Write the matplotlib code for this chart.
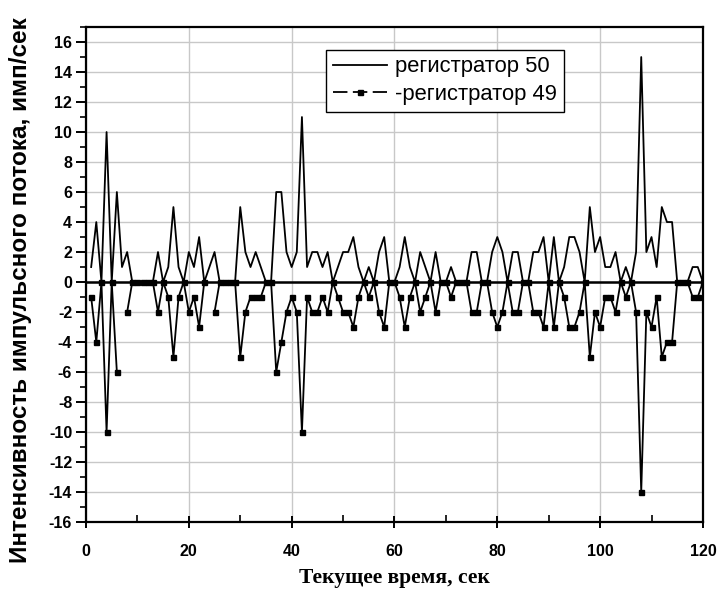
import numpy as np
import matplotlib
matplotlib.use("Agg")
import matplotlib.pyplot as plt
from matplotlib.lines import Line2D
from matplotlib.ticker import MultipleLocator

plt.rcParams['axes.unicode_minus'] = False

# time, seconds
t = np.arange(1, 121)

# регистратор 50 (positive)
reg50 = [1, 4, 0, 10, 0, 6, 1, 2, 0, 0, 0, 0, 0, 2, 0, 1, 5, 1, 0, 2,
         1, 3, 0, 1, 2, 0, 0, 0, 0, 5, 2, 1, 2, 1, 0, 0, 6, 6, 2, 1,
         2, 11, 1, 2, 2, 1, 2, 0, 1, 2, 2, 3, 1, 0, 1, 0, 2, 3, 0, 0,
         1, 3, 1, 0, 2, 1, 0, 2, 0, 0, 1, 0, 0, 0, 2, 2, 0, 0, 2, 3,
         2, 0, 2, 2, 0, 0, 2, 2, 3, 0, 3, 0, 1, 3, 3, 2, 0, 5, 2, 3,
         1, 1, 2, 0, 1, 0, 2, 15, 2, 3, 1, 5, 4, 4, 0, 0, 0, 1, 1, 0]

# регистратор 49 (plotted negative), nan = missing point
nan = np.nan
reg49 = [-1, -4, 0, -10, 0, -6, nan, -2, 0, 0, 0, 0, 0, -2, 0, -1, -5, -1, 0, -2,
         -1, -3, 0, nan, -2, 0, 0, 0, 0, -5, -2, -1, -1, -1, 0, 0, -6, -4, -2, -1,
         -2, -10, -1, -2, -2, -1, -2, 0, -1, -2, -2, -3, -1, 0, -1, 0, -2, -3, 0, 0,
         -1, -3, -1, 0, -2, -1, 0, -2, 0, 0, -1, 0, 0, 0, -2, -2, 0, 0, -2, -3,
         -2, 0, -2, -2, 0, 0, -2, -2, -3, 0, -3, 0, -1, -3, -3, -2, 0, -5, -2, -3,
         -1, -1, -2, 0, -1, 0, -2, -14, -2, -3, -1, -5, -4, -4, 0, 0, 0, -1, -1, 0]

fig = plt.figure(figsize=(7.18, 6.01), dpi=100)
ax = fig.add_axes([0.1198, 0.1314, 0.8592, 0.8236])

ax.grid(True, which='major', color='#c8c8c8', linewidth=1.0)
ax.set_axisbelow(True)
ax.axhline(0, color='black', linewidth=1.8, zorder=2)

ax.plot(t, reg50, color='black', linewidth=1.3, zorder=3)
ax.plot(t, reg49, color='black', linewidth=1.3, marker='s', markersize=3.6, zorder=3)

ax.set_xlim(0, 120)
ax.set_ylim(-16, 17)
ax.xaxis.set_major_locator(MultipleLocator(20))
ax.xaxis.set_minor_locator(MultipleLocator(10))
ax.set_yticks(np.arange(-16, 17, 2))
ax.yaxis.set_minor_locator(MultipleLocator(1))

for s in ax.spines.values():
    s.set_linewidth(1.6)

ax.tick_params(axis='x', which='major', direction='inout', length=9, width=1.4, pad=11)
ax.tick_params(axis='x', which='minor', direction='in', length=5, width=1.2)
ax.tick_params(axis='y', which='major', direction='out', length=7, width=1.4, pad=3)
ax.tick_params(axis='y', which='minor', direction='out', length=4, width=1.2)

for lab in ax.get_xticklabels() + ax.get_yticklabels():
    lab.set_fontfamily('Liberation Sans')
    lab.set_fontweight('bold')
    lab.set_fontsize(11.5)

ax.set_xlabel('Текущее время, сек', fontfamily='Liberation Serif',
              fontweight='bold', fontsize=15.5, labelpad=7)
ax.set_ylabel('Интенсивность импульсного потока, имп/сек', fontfamily='Liberation Sans',
              fontweight='bold', fontsize=17.5)
ax.yaxis.set_label_coords(-0.088, 0.469)

handles = [Line2D([], [], color='black', linewidth=1.3),
           Line2D([], [], color='black', linewidth=1.3, linestyle=(0, (8, 3)),
                  marker='s', markersize=3.6)]
leg = ax.legend(handles, ['регистратор 50', '-регистратор 49'],
                loc='upper left', bbox_to_anchor=(0.389, 0.954), borderaxespad=0,
                handlelength=2.5, numpoints=1, fancybox=False, framealpha=1,
                edgecolor='black', prop={'family': 'Liberation Sans', 'size': 15.8},
                labelspacing=0.3, borderpad=0.3, handletextpad=0.35)
leg.get_frame().set_linewidth(1.0)

plt.savefig('out.png', dpi=100)
